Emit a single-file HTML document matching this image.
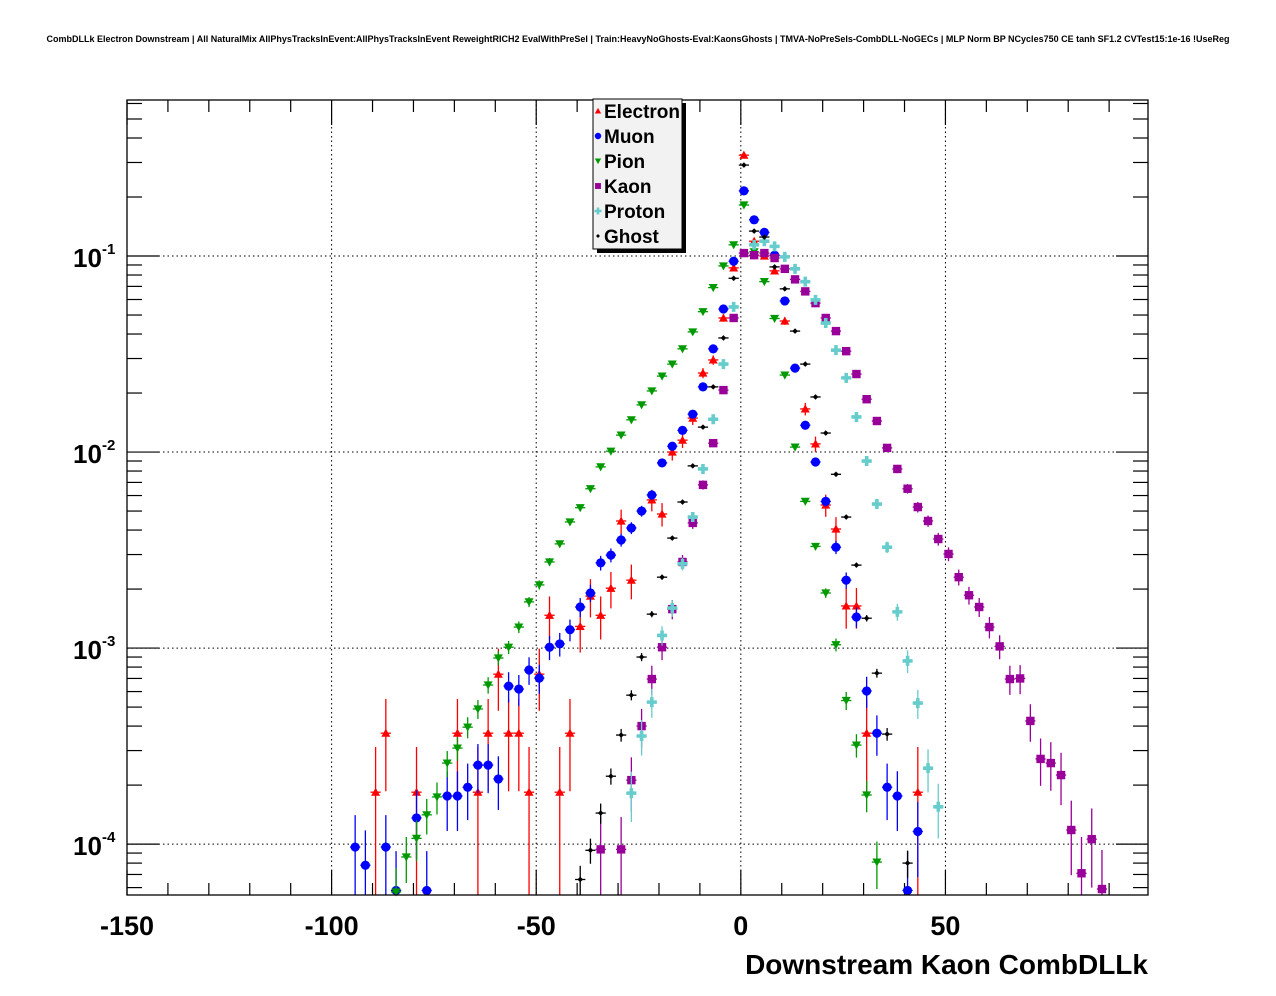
<!DOCTYPE html>
<html><head><meta charset="utf-8"><style>
html,body{margin:0;padding:0;background:#fff;}
svg{display:block;font-family:"Liberation Sans",Arial,sans-serif;}
</style></head><body>
<svg id="chart" width="1276" height="996" viewBox="0 0 1276 996" xmlns="http://www.w3.org/2000/svg">
<rect x="0" y="0" width="1276" height="996" fill="#fff"/>
<text x="638" y="42" text-anchor="middle" font-size="9" font-weight="bold">CombDLLk Electron Downstream | All NaturalMix AllPhysTracksInEvent:AllPhysTracksInEvent ReweightRICH2 EvalWithPreSel | Train:HeavyNoGhosts-Eval:KaonsGhosts | TMVA-NoPreSels-CombDLL-NoGECs | MLP Norm BP NCycles750 CE tanh SF1.2 CVTest15:1e-16 !UseReg</text>
<g id="grid"></g>
<g id="ticks"></g>
<g id="marks"></g>
<rect x="127" y="100" width="1021" height="795" fill="none" stroke="#000" stroke-width="1.3"/>
<g id="labels"></g>
<text x="1148" y="974" text-anchor="end" font-size="28" font-weight="bold">Downstream Kaon CombDLLk</text>
<g id="legend"></g>
</svg>
<script>
// ---- data (bin centers = start + 2.5*i) ----
const binWidth = 2.5;
const electronStart = -89.25;
const electronValues = [1.84e-4,3.68e-4,null,null,1.84e-4,null,null,null,3.68e-4,null,1.84e-4,3.68e-4,7.36e-4,3.68e-4,3.68e-4,1.84e-4,7.36e-4,1.47e-3,1.84e-4,3.68e-4,1.29e-3,1.84e-3,1.47e-3,2.02e-3,4.45e-3,2.22e-3,null,5.7e-3,4.83e-3,1.0e-2,1.15e-2,1.49e-2,2.53e-2,2.95e-2,4.83e-2,8.7e-2,0.327,0.119,0.1,8.4e-2,4.66e-2,null,1.66e-2,1.1e-2,5.37e-3,4.05e-3,1.64e-3,1.64e-3,3.68e-4,null,null,null,null,1.84e-4];
const muonStart = -94.25;
const muonValues = [9.66e-5,7.8e-5,null,9.66e-5,5.8e-5,null,1.36e-4,5.8e-5,null,1.76e-4,1.76e-4,1.95e-4,2.53e-4,2.53e-4,2.15e-4,6.4e-4,6.18e-4,7.73e-4,7.03e-4,1.01e-3,1.05e-3,1.24e-3,1.62e-3,1.91e-3,2.72e-3,2.98e-3,3.56e-3,4.1e-3,5.0e-3,6.04e-3,8.8e-3,1.07e-2,1.29e-2,1.56e-2,2.15e-2,3.36e-2,5.37e-2,9.4e-2,0.215,0.153,0.132,0.101,5.9e-2,2.68e-2,1.37e-2,8.9e-3,5.6e-3,3.27e-3,2.22e-3,1.44e-3,6.04e-4,3.68e-4,1.95e-4,1.76e-4,5.8e-5,1.16e-4];
const pionStart = -84.25;
const pionValues = [5.7e-5,8.6e-5,1.07e-4,1.41e-4,1.74e-4,2.59e-4,3.09e-4,3.95e-4,4.89e-4,6.48e-4,8.9e-4,1.01e-3,1.28e-3,1.72e-3,2.1e-3,2.75e-3,3.4e-3,4.4e-3,5.2e-3,6.5e-3,8.4e-3,1.01e-2,1.22e-2,1.46e-2,1.74e-2,2.05e-2,2.44e-2,2.81e-2,3.36e-2,4.1e-2,5.2e-2,6.9e-2,8.9e-2,0.114,0.182,0.105,7.4e-2,4.8e-2,2.47e-2,1.06e-2,5.6e-3,3.3e-3,1.91e-3,1.04e-3,5.4e-4,3.2e-4,1.78e-4,8.1e-5];
const kaonStart = -34.25;
const kaonValues = [9.4e-5,null,9.4e-5,2.12e-4,4.0e-4,6.95e-4,1.01e-3,1.58e-3,2.75e-3,4.35e-3,6.8e-3,1.11e-2,2.07e-2,4.83e-2,0.1035,0.101,0.1035,9.77e-2,8.6e-2,7.6e-2,6.6e-2,5.75e-2,4.83e-2,4.14e-2,3.27e-2,2.5e-2,1.86e-2,1.44e-2,1.05e-2,8.2e-3,6.5e-3,5.24e-3,4.45e-3,3.6e-3,3.02e-3,2.3e-3,1.86e-3,1.62e-3,1.28e-3,1.02e-3,6.95e-4,7.0e-4,4.25e-4,2.72e-4,2.59e-4,2.25e-4,1.18e-4,7.1e-5,1.06e-4,5.9e-5];
const protonStart = -26.75;
const protonValues = [1.82e-4,3.56e-4,5.3e-4,1.16e-3,1.6e-3,2.69e-3,4.66e-3,8.2e-3,1.47e-2,2.81e-2,5.5e-2,null,0.114,0.119,0.112,9.9e-2,8.6e-2,7.4e-2,5.97e-2,4.55e-2,3.31e-2,2.39e-2,1.51e-2,9.0e-3,5.43e-3,3.27e-3,1.53e-3,8.6e-4,5.24e-4,2.44e-4,1.55e-4];
const ghostStart = -39.25;
const ghostValues = [6.6e-5,9.3e-5,1.44e-4,2.22e-4,3.6e-4,5.75e-4,9.0e-4,1.49e-3,2.3e-3,3.64e-3,5.56e-3,8.5e-3,1.34e-2,2.15e-2,3.82e-2,7.7e-2,0.291,0.134,0.125,0.088,6.8e-2,4.14e-2,2.81e-2,1.91e-2,1.25e-2,7.7e-3,4.66e-3,2.65e-3,1.42e-3,7.45e-4,3.64e-4,null,8.0e-5];
const xTickLabels = [-150,-100,-50,0,50];
const yDecades = [-1,-2,-3,-4];
const legendNames = ["Electron","Muon","Pion","Kaon","Proton","Ghost"];

// ---- axes ----
const X0=127, X1=1148, Y0=100, Y1=895;
const xMin=-150, xMax=99.5;
const yTopLog=Math.log10(0.625), yBotLog=Math.log10(5.5e-5);
function xs(v){return X0+(v-xMin)/(xMax-xMin)*(X1-X0);}
function ys(v){return Y0+(yTopLog-Math.log10(v))/(yTopLog-yBotLog)*(Y1-Y0);}
const NS="http://www.w3.org/2000/svg";
function mk(tag,attrs,parent){const e=document.createElementNS(NS,tag);for(const k in attrs)e.setAttribute(k,attrs[k]);parent.appendChild(e);return e;}

const grid=document.getElementById('grid'), ticks=document.getElementById('ticks');
const labels=document.getElementById('labels'), marks=document.getElementById('marks');
xTickLabels.forEach(v=>{ if(v>xMin){
  const l=mk('line',{x1:xs(v),x2:xs(v),y1:Y0,y2:Y1,stroke:'#000','stroke-width':1,'stroke-dasharray':'1.5,3'},grid);
  
  
}});
yDecades.forEach(d=>{
  const l=mk('line',{x1:X0,x2:X1,y1:ys(Math.pow(10,d)),y2:ys(Math.pow(10,d)),stroke:'#000','stroke-width':1,'stroke-dasharray':'1.5,3'},grid);
  
  
});
for(let v=-150;v<=95;v+=10){
  const major=(v%50===0); const len=major?25:12;
  const x=xs(v);
  mk('line',{x1:x,x2:x,y1:Y1,y2:Y1-len,stroke:'#000','stroke-width':1.2},ticks);
  mk('line',{x1:x,x2:x,y1:Y0,y2:Y0+len,stroke:'#000','stroke-width':1.2},ticks);
}
for(let d=-5;d<=0;d++){
  for(let m=1;m<10;m++){
    const v=m*Math.pow(10,d); if(v>0.625||v<5.5e-5) continue;
    const len=(m===1)?32:15; const y=ys(v);
    mk('line',{x1:X0,x2:X0+len,y1:y,y2:y,stroke:'#000','stroke-width':1.2},ticks);
    mk('line',{x1:X1,x2:X1-len,y1:y,y2:y,stroke:'#000','stroke-width':1.2},ticks);
  }
}
xTickLabels.forEach(v=>{
  const t=mk('text',{x:xs(v),y:935,'text-anchor':'middle','font-size':27,'font-weight':'bold'},labels);
  t.textContent=String(v);
  
  
});
yDecades.forEach(d=>{
  const y=ys(Math.pow(10,d));
  const t=mk('text',{x:73,y:y+11,'font-size':26,'font-weight':'bold'},labels);
  t.textContent='10';
  
  
  const s=mk('text',{x:102,y:y-2,'font-size':15,'font-weight':'bold'},labels);
  s.textContent=String(d);
  
  
});

function marker(kind,cx,cy,color,parent,sc){
  sc=sc||1; let e;
  if(kind==='tri'){const s=4.5*sc;e=mk('polygon',{points:`${cx},${cy-s} ${cx-s},${cy+s*0.8} ${cx+s},${cy+s*0.8}`,fill:color},parent);}
  else if(kind==='circ'){e=mk('circle',{cx:cx,cy:cy,r:4.6*sc,fill:color},parent);}
  else if(kind==='tridown'){const s=4.5*sc;e=mk('polygon',{points:`${cx},${cy+s} ${cx-s},${cy-s*0.8} ${cx+s},${cy-s*0.8}`,fill:color},parent);}
  else if(kind==='sq'){const s=4.2*sc;e=mk('rect',{x:cx-s,y:cy-s,width:2*s,height:2*s,fill:color},parent);}
  else if(kind==='cross'){const a=5*sc,b=1.8*sc;e=mk('path',{d:`M${cx-b},${cy-a}h${2*b}v${a-b}h${a-b}v${2*b}h${-(a-b)}v${a-b}h${-2*b}v${-(a-b)}h${-(a-b)}v${-2*b}h${a-b}z`,fill:color},parent);}
  else {const s=2.8*sc;e=mk('polygon',{points:`${cx},${cy-s} ${cx+s},${cy} ${cx},${cy+s} ${cx-s},${cy}`,fill:color},parent);}
  return e;
}
const seriesList=[
  {name:'electron',start:electronStart,vals:electronValues,color:'#ff0000',kind:'tri',w:9e-5},
  {name:'muon',start:muonStart,vals:muonValues,color:'#0000ff',kind:'circ',w:2e-5},
  {name:'pion',start:pionStart,vals:pionValues,color:'#009900',kind:'tridown',w:6e-6},
  {name:'kaon',start:kaonStart,vals:kaonValues,color:'#990099',kind:'sq',w:2e-5},
  {name:'proton',start:protonStart,vals:protonValues,color:'#66cccc',kind:'cross',w:1.5e-5},
  {name:'ghost',start:ghostStart,vals:ghostValues,color:'#000000',kind:'dia',w:2e-6}
];
seriesList.forEach(s=>{
  const g=mk('g',{},marks);
  
  
  s.vals.forEach((v,i)=>{
    if(v==null) return;
    const xc=s.start+binWidth*i;
    const cx=xs(xc), cy=ys(v);
    const err=Math.sqrt(v*s.w);
    const yHi=ys(v+err); const yLo=(v-err)>5.5e-5?ys(v-err):Y1;
    mk('line',{x1:cx,x2:cx,y1:Math.max(Y0,yHi),y2:Math.min(Y1,yLo),stroke:s.color,'stroke-width':1.3},g);
    mk('line',{x1:xs(xc-binWidth/2),x2:xs(xc+binWidth/2),y1:cy,y2:cy,stroke:s.color,'stroke-width':1.3},g);
    const m=marker(s.kind,cx,cy,s.color,g);
    
    
  });
});

const lg=document.getElementById('legend');
mk('rect',{x:597,y:103,width:89,height:150,fill:'#000'},lg);
const box=mk('rect',{x:593,y:99,width:89,height:150,fill:'#f2f2f2',stroke:'#000','stroke-width':1},lg);


legendNames.forEach((n,i)=>{
  const s=seriesList[i]; const y=111+25*i;
  const m=marker(s.kind,598,y,s.color,lg,0.7);
  
  
  const t=mk('text',{x:604,y:y+7,'font-size':19,'font-weight':'bold'},lg);
  t.textContent=n;
  
  
});
</script>
</body></html>
